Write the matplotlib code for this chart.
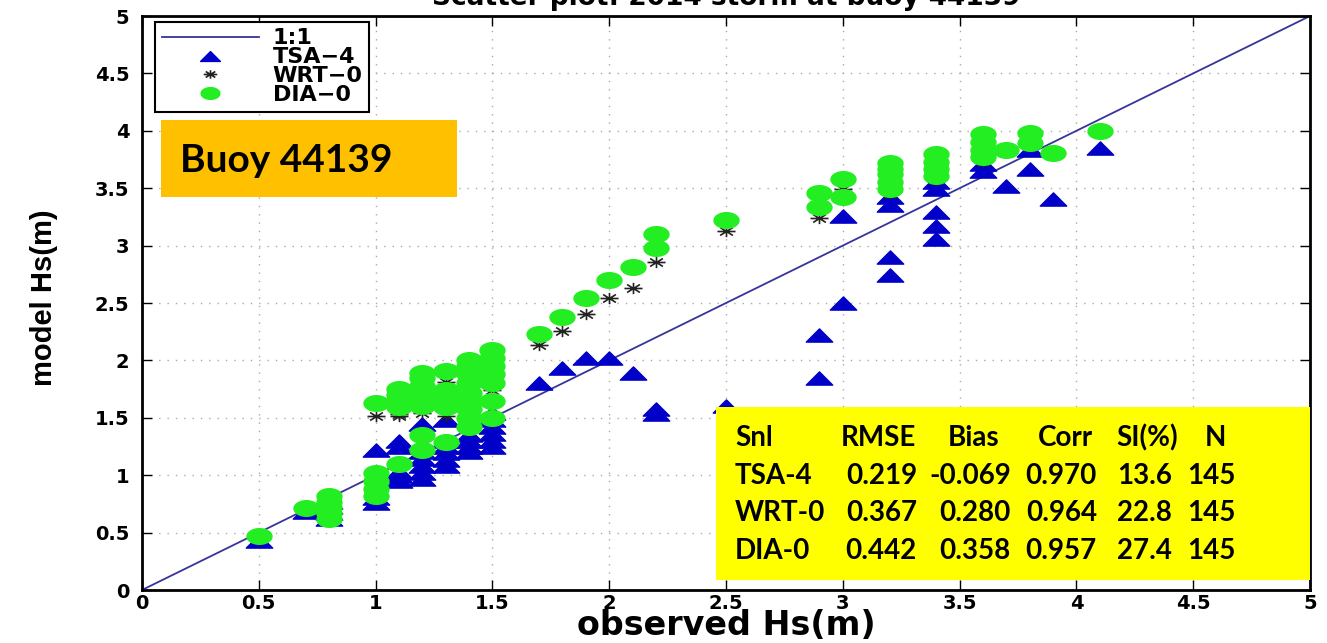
import numpy as np
import matplotlib.pyplot as plt
from matplotlib.path import Path
from matplotlib.patches import Rectangle

# observed Hs and the model Hs values read at each observed level
tsa_pts = [
    (0.5, [0.43]), (0.7, [0.68]), (0.8, [0.62, 0.67, 0.72, 0.77]),
    (1.0, [0.76, 0.80, 1.22]), (1.1, [0.95, 0.99, 1.03, 1.25, 1.30]),
    (1.2, [0.97, 1.02, 1.08, 1.14, 1.20, 1.26, 1.45]),
    (1.3, [1.08, 1.13, 1.19, 1.25, 1.30, 1.48]),
    (1.4, [1.20, 1.25, 1.30, 1.35]),
    (1.5, [1.25, 1.30, 1.36, 1.42, 1.48, 1.54]),
    (1.7, [1.80]), (1.8, [1.93]), (1.9, [2.02]), (2.0, [2.02]), (2.1, [1.89]),
    (2.2, [1.53, 1.58]), (2.5, [1.60]), (2.9, [1.85, 2.22]), (3.0, [2.50, 3.26]),
    (3.2, [2.74, 2.90, 3.35, 3.42]), (3.4, [3.06, 3.17, 3.29, 3.49, 3.55]),
    (3.6, [3.65, 3.71]), (3.7, [3.52]), (3.8, [3.67, 3.83]), (3.9, [3.41]),
    (4.1, [3.85]),
]
wrt_pts = [
    (0.5, [0.45]), (0.7, [0.70]), (0.8, [0.63, 0.68, 0.73, 0.78]),
    (1.0, [0.82, 0.88, 1.52]), (1.1, [1.52, 1.53]), (1.2, [1.54]),
    (1.3, [1.52, 1.81]), (1.4, [1.48, 1.52]), (1.5, [1.74, 1.93, 1.95]),
    (1.7, [2.13]), (1.8, [2.26]), (1.9, [2.40]), (2.0, [2.54]), (2.1, [2.63]),
    (2.2, [2.86]), (2.5, [3.13]), (2.9, [3.24, 3.38]), (3.0, [3.49]),
    (3.2, [3.45, 3.62]), (3.4, [3.57]), (3.6, [3.73, 3.89]), (3.8, [3.93]),
    (4.1, [3.97]),
]
dia_pts = [
    (0.5, [0.47]), (0.7, [0.71]), (0.8, [0.62, 0.67, 0.72, 0.77, 0.82]),
    (1.0, [0.82, 0.88, 0.95, 1.02, 1.63]),
    (1.1, [1.10, 1.59, 1.65, 1.70, 1.75]),
    (1.2, [1.22, 1.35, 1.60, 1.66, 1.72, 1.78, 1.85, 1.89]),
    (1.3, [1.29, 1.59, 1.65, 1.71, 1.74, 1.91]),
    (1.4, [1.42, 1.50, 1.58, 1.65, 1.72, 1.80, 1.88, 1.95, 2.00]),
    (1.5, [1.50, 1.65, 1.80, 1.88, 1.95, 2.02, 2.09]),
    (1.7, [2.23]), (1.8, [2.38]), (1.9, [2.54]), (2.0, [2.70]), (2.1, [2.81]),
    (2.2, [2.98, 3.10]), (2.5, [3.22]), (2.9, [3.34, 3.46]), (3.0, [3.42, 3.58]),
    (3.2, [3.49, 3.55, 3.62, 3.67, 3.72]), (3.4, [3.61, 3.67, 3.73, 3.80]),
    (3.6, [3.77, 3.83, 3.90, 3.97]), (3.7, [3.83]), (3.8, [3.89, 3.98]),
    (3.9, [3.81]), (4.1, [4.00]),
]

series_names = ['TSA\u22124', 'WRT\u22120', 'DIA\u22120']

table_header = ['Snl', 'RMSE', 'Bias', 'Corr', 'SI(%)', 'N']
table_rows = [
    ['TSA-4', '0.219', '-0.069', '0.970', '13.6', '145'],
    ['WRT-0', '0.367', '0.280', '0.964', '22.8', '145'],
    ['DIA-0', '0.442', '0.358', '0.957', '27.4', '145'],
]

ticks = [0, 0.5, 1, 1.5, 2, 2.5, 3, 3.5, 4, 4.5, 5]
tick_labels = ['0', '0.5', '1', '1.5', '2', '2.5', '3', '3.5', '4', '4.5', '5']


def flat(pts):
    obs = [o for o, ms in pts for m in ms]
    mod = [m for o, ms in pts for m in ms]
    return obs, mod


# stretched markers (the original picture is wider than tall)
t = np.linspace(0, 2 * np.pi, 41)
ellipse = Path(np.column_stack([1.6 * np.cos(t), np.sin(t)]), closed=True)
triangle = Path([(-1, -0.5), (1, -0.5), (0, 0.5), (-1, -0.5)], closed=True)
star_v, star_c = [], []
for a in np.deg2rad([0, 45, 90, 135]):
    star_v += [(-1.6 * np.cos(a), -np.sin(a)), (1.6 * np.cos(a), np.sin(a))]
    star_c += [Path.MOVETO, Path.LINETO]
star = Path(star_v, star_c)

W, H = 1327, 643


def fx(x):
    return x / W


def fy(y):
    return 1 - y / H


fig = plt.figure(figsize=(W / 100, H / 100), dpi=100)
ax = fig.add_axes([fx(142), fy(590), (1310 - 142) / W, (590 - 16) / H])

ax.plot([0, 5], [0, 5], color='#35359a', lw=1.3, label='1:1', zorder=2)
x, y = flat(tsa_pts)
ax.plot(x, y, ls='none', marker=triangle, ms=19, color='#0000c8',
        mec='#0000c8', label=series_names[0], zorder=3)
x, y = flat(wrt_pts)
ax.plot(x, y, ls='none', marker=star, ms=13, mfc='none', mec='#222222',
        mew=1.2, label=series_names[1], zorder=4)
x, y = flat(dia_pts)
ax.plot(x, y, ls='none', marker=ellipse, ms=18, color='#22ee22',
        mec='#22ee22', label=series_names[2], zorder=5)

ax.set_xlim(0, 5)
ax.set_ylim(0, 5)
ax.set_xticks(ticks)
ax.set_yticks(ticks)
ax.set_xticklabels(tick_labels, fontsize=14, fontweight='bold')
ax.set_yticklabels(tick_labels, fontsize=14, fontweight='bold')
ax.tick_params(direction='in', length=7, width=1, top=True, right=True)
ax.tick_params(axis='x', pad=3)
ax.tick_params(axis='y', pad=9)
ax.grid(True, color='#aaaaaa', ls=(0, (1, 5)), lw=1)
for s in ax.spines.values():
    s.set_linewidth(2)

fig.text(fx(726), fy(635), 'observed Hs(m)', ha='center', va='baseline',
         fontsize=24, fontweight='bold')
fig.text(fx(44), fy(298), 'model Hs(m)', ha='center', va='center',
         rotation=90, fontsize=21, fontweight='bold', family='Liberation Sans')

leg = ax.legend(loc='upper left', bbox_to_anchor=(0.011, 0.99), borderaxespad=0,
                fancybox=False, edgecolor='black', framealpha=1,
                prop={'weight': 'bold', 'size': 16}, handlelength=4.4,
                handletextpad=0.6, labelspacing=-0.05, markerscale=0.75,
                borderpad=0.3)
leg.get_frame().set_linewidth(1.5)
leg.set_zorder(10)

fig.text(fx(726), fy(5), 'Scatter plot: 2014 storm at buoy 44139', ha='center',
         va='baseline', fontsize=19, fontweight='bold')

# orange label box
fig.patches.append(Rectangle((fx(161), fy(197)), (457 - 161) / W, (197 - 120) / H,
                             transform=fig.transFigure, facecolor='#ffc000',
                             edgecolor='none', zorder=20))
fig.text(fx(180), fy(160), 'Buoy 44139', ha='left', va='center', fontsize=28,
         fontweight='bold', family='Lato', zorder=21)

# yellow statistics box
fig.patches.append(Rectangle((fx(716), fy(580)), (1310 - 716) / W, (580 - 407) / H,
                             transform=fig.transFigure, facecolor='#ffff00',
                             edgecolor='none', zorder=20))
head_x = [735, 841, 948, 1038, 1116, 1205]
for hx, txt in zip(head_x, table_header):
    fig.text(fx(hx), fy(438), txt, ha='left', va='center', fontsize=20,
             fontweight='bold', family='Lato', zorder=21)
col_right = [917, 1011, 1097, 1172, 1236]
row_y = [476, 513, 551]
for ry, row in zip(row_y, table_rows):
    fig.text(fx(735), fy(ry), row[0], ha='left', va='center', fontsize=20,
             fontweight='bold', family='Lato', zorder=21)
    for cx, txt in zip(col_right, row[1:]):
        fig.text(fx(cx), fy(ry), txt, ha='right', va='center', fontsize=20,
                 fontweight='bold', family='Lato', zorder=21)

fig.savefig('out.png', dpi=100)
